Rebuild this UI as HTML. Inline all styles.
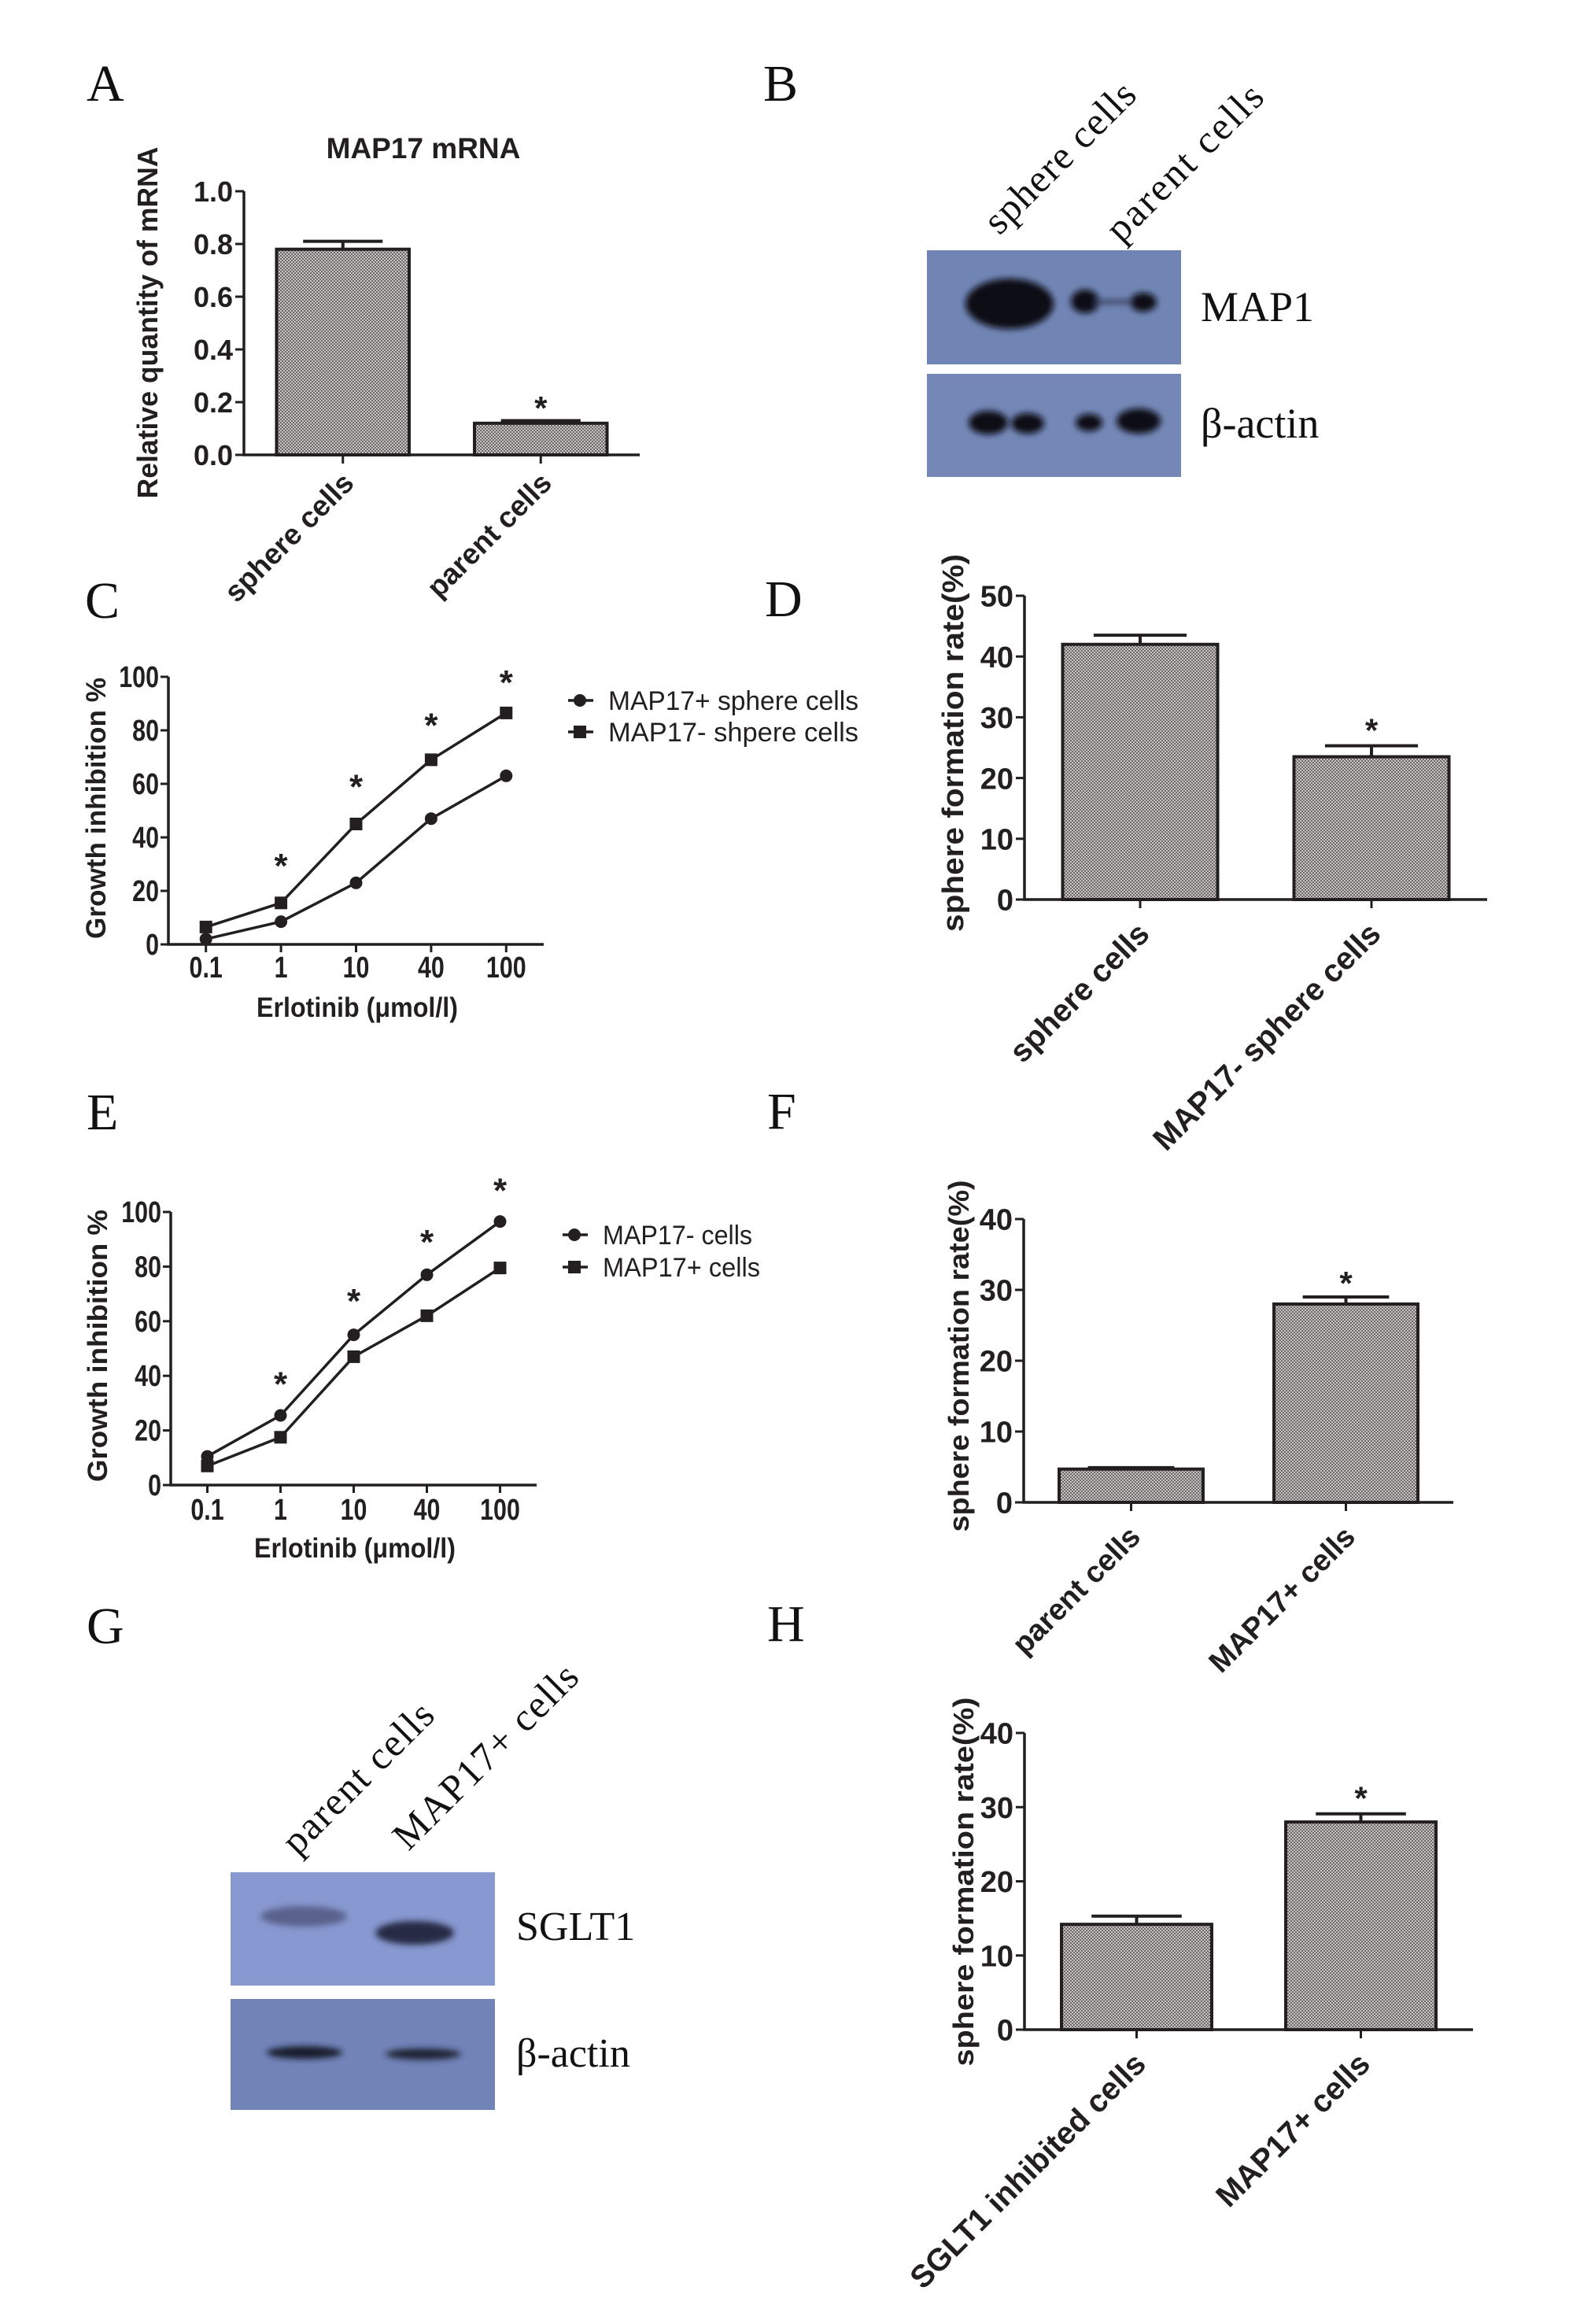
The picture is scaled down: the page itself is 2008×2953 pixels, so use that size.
<!DOCTYPE html>
<html><head><meta charset="utf-8"><title>MAP17 figure</title>
<style>
html,body{margin:0;padding:0;background:#fff;}
svg{display:block;}
.lbl{font-family:"Liberation Serif",serif;font-size:66px;fill:#111;}
.tk{font-family:"Liberation Sans",sans-serif;font-weight:bold;fill:#231f20;}
.ser{font-family:"Liberation Serif",serif;fill:#111;}
.leg{font-family:"Liberation Sans",sans-serif;fill:#231f20;}
</style></head>
<body>
<svg id="fig" xmlns="http://www.w3.org/2000/svg" width="2008" height="2953" viewBox="0 0 2008 2953">
<defs>
<pattern id="dots" width="4" height="4" patternUnits="userSpaceOnUse">
<rect width="4" height="4" fill="#c9c4c4"/><rect width="2" height="2" fill="#6e6969"/><rect x="2" y="2" width="2" height="2" fill="#6e6969"/>
</pattern>
<filter id="blur" x="-50%" y="-50%" width="200%" height="200%"><feGaussianBlur stdDeviation="4"/></filter>
</defs>
<g>
<text class="lbl" x="110" y="128">A</text>
<text class="lbl" x="970" y="128">B</text>
<text class="lbl" x="108" y="785">C</text>
<text class="lbl" x="972" y="783">D</text>
<text class="lbl" x="110" y="1435">E</text>
<text class="lbl" x="975" y="1434">F</text>
<text class="lbl" x="110" y="2088">G</text>
<text class="lbl" x="975" y="2085">H</text>
</g>
<g>
<text class="ser" font-size="50" transform="translate(1270,300) rotate(-45)" textLength="250">sphere cells</text>
<text class="ser" font-size="50" transform="translate(1425,310) rotate(-45)" textLength="260">parent cells</text>
<rect x="1178" y="318" width="323" height="145" fill="#7185b4"/>
<rect x="1178" y="475" width="323" height="131" fill="#7487b6"/>
<g filter="url(#blur)" fill="#0a0a12">
<ellipse cx="1283" cy="386" rx="56" ry="32"/>
<ellipse cx="1379" cy="383" rx="18" ry="15"/>
<ellipse cx="1453" cy="384" rx="17" ry="12"/>
<rect x="1390" y="381" width="50" height="5" fill="#333a55"/>
<ellipse cx="1256" cy="537" rx="25" ry="15"/>
<ellipse cx="1306" cy="538" rx="21" ry="13"/>
<ellipse cx="1384" cy="537" rx="17" ry="11"/>
<ellipse cx="1447" cy="535" rx="28" ry="16"/>
</g>
<text class="ser" font-size="54" x="1526" y="408">MAP1</text>
<text class="ser" font-size="54" x="1526" y="556">β-actin</text>
</g>
<g>
<text class="ser" font-size="50" transform="translate(378,2359) rotate(-45)" textLength="250">parent cells</text>
<text class="ser" font-size="50" transform="translate(519,2353) rotate(-45)" textLength="310">MAP17+ cells</text>
<rect x="293" y="2379" width="336" height="144" fill="#8898d0"/>
<rect x="293" y="2540" width="336" height="141" fill="#7283b8"/>
<g filter="url(#blur)">
<ellipse cx="386" cy="2435" rx="55" ry="13" fill="#5a628c"/>
<ellipse cx="527" cy="2456" rx="50" ry="15" fill="#262a44"/>
<ellipse cx="387" cy="2608" rx="48" ry="8" fill="#161a2a"/>
<ellipse cx="538" cy="2610" rx="48" ry="7" fill="#1c2032"/>
</g>
<text class="ser" font-size="52" x="656" y="2465">SGLT1</text>
<text class="ser" font-size="52" x="656" y="2626">β-actin</text>
</g>
<g id="charts"></g>
</svg>
<script>
// ---- Panel A data ----
const aCats = ["sphere cells", "parent cells"];
const aVals = [0.78, 0.12];
const aErr = [0.81, 0.13];
const aTicks = ["0.0", "0.2", "0.4", "0.6", "0.8", "1.0"];
const aStars = [null, 0.2];
// ---- Panel C data ----
const doses = ["0.1", "1", "10", "40", "100"];
const cPlusVals = [2, 8.5, 23, 47, 63];
const cMinusVals = [6.5, 15.5, 45, 69, 86.5];
const cStars = [null, 31.5, 61, 84, 100];
const growthTicks = ["0", "20", "40", "60", "80", "100"];
// ---- Panel D data ----
const dCats = ["sphere cells", "MAP17- sphere cells"];
const dVals = [42, 23.5];
const dErr = [43.5, 25.3];
const dTicks = ["0", "10", "20", "30", "40", "50"];
const dStars = [null, 28.8];
// ---- Panel E data ----
const eMinusVals = [10.5, 25.5, 55, 77, 96.5];
const ePlusVals = [7, 17.5, 47, 62, 79.5];
const eStars = [null, 39, 69.5, 91, 110];
// ---- Panel F data ----
const fCats = ["parent cells", "MAP17+ cells"];
const fVals = [4.7, 28];
const fErr = [4.9, 29];
const fTicks = ["0", "10", "20", "30", "40"];
const fStars = [null, 31.8];
// ---- Panel H data ----
const hCats = ["SGLT1 inhibited cells", "MAP17+ cells"];
const hVals = [14.2, 28];
const hErr = [15.3, 29.1];
const hTicks = ["0", "10", "20", "30", "40"];
const hStars = [null, 32];

const NS = "http://www.w3.org/2000/svg";
const root = document.getElementById("charts");
function mk(tag, attrs, parent) {
  const e = document.createElementNS(NS, tag);
  for (const k in attrs) e.setAttribute(k, attrs[k]);
  (parent || root).appendChild(e);
  return e;
}
function txt(parent, s, attrs) { const t = mk("text", attrs, parent); t.textContent = s; return t; }

function barChart(o) {
  const g = mk("g", {});
  
  
  const max = parseFloat(o.ticks[o.ticks.length - 1]);
  const y = v => o.y0 - (v / max) * (o.y0 - o.yTop);
  const n = o.cats.length;
  const slot = (o.xEnd - o.ax) / n;
  const cx = i => o.ax + (i + 0.5) * slot;
  if (o.title) {
    const t = txt(g, o.title, {class: "tk", x: o.titleX, y: o.titleY, "font-size": 37, "text-anchor": "middle"});
    
    
  }
  const yt = txt(g, o.yTitle, {class: "tk", "font-size": o.ytSize, "text-anchor": "middle", transform: `translate(${o.ytX},${o.ytY}) rotate(-90)`, textLength: o.ytLen, lengthAdjust: "spacingAndGlyphs"});
  
  
  o.vals.forEach((v, i) => {
    const bw = slot * 0.67;
    const r = mk("rect", {x: cx(i) - bw / 2, y: y(v), width: bw, height: o.y0 - y(v), fill: "url(#dots)", stroke: "#231f20", "stroke-width": 4}, g);
    
    
    const e = mk("path", {d: `M${cx(i)} ${y(v)}V${y(o.err[i])}M${cx(i) - bw * 0.3} ${y(o.err[i])}H${cx(i) + bw * 0.3}`, stroke: "#231f20", "stroke-width": 4, fill: "none"}, g);
    
    
    if (o.stars[i] != null) {
      const s = txt(g, "*", {class: "tk", x: cx(i), y: y(o.stars[i]) + 22, "font-size": 42, "text-anchor": "middle"});
      
      
    }
    const tk = mk("line", {x1: cx(i), x2: cx(i), y1: o.y0, y2: o.y0 + 11, stroke: "#231f20", "stroke-width": 3}, g);
    
    
    const lx = cx(i) + o.lblDx, ly = o.y0 + o.lblDy;
    const lb = txt(g, o.cats[i], {class: "tk", "font-size": o.lblSize, "text-anchor": "end", transform: `translate(${lx},${ly}) rotate(-45)`});
    
    
  });
  const ax = mk("path", {d: `M${o.ax} ${o.yTop}V${o.y0}H${o.xEnd}`, stroke: "#231f20", "stroke-width": 3.5, fill: "none"}, g);
  
  
  o.ticks.forEach(tv => {
    const v = parseFloat(tv);
    const l = mk("line", {x1: o.ax - 11, x2: o.ax, y1: y(v), y2: y(v), stroke: "#231f20", "stroke-width": 3}, g);
    
    
    const t = txt(g, tv, {class: "tk", x: o.ax - 14, y: y(v) + o.tkSize * 0.36, "font-size": o.tkSize, "text-anchor": "end"});
    
    
  });
}

function lineChart(o) {
  const g = mk("g", {});
  
  
  const y = v => o.y0 - (v / 100) * (o.y0 - o.yTop);
  const w = (o.xEnd - o.ax) / doses.length;
  const x = i => o.ax + (i + 0.5) * w;
  const ax = mk("path", {d: `M${o.ax} ${o.yTop}V${o.y0}H${o.xEnd}`, stroke: "#231f20", "stroke-width": 3.5, fill: "none"}, g);
  
  
  growthTicks.forEach(tv => {
    const v = parseFloat(tv);
    const l = mk("line", {x1: o.ax - 10, x2: o.ax, y1: y(v), y2: y(v), stroke: "#231f20", "stroke-width": 3}, g);
    
    
    const t = txt(g, tv, {class: "tk", x: (o.ax - 12) / 0.8, y: y(v) + 13, "font-size": 38, "text-anchor": "end", transform: "scale(0.8,1)"});
    
    
  });
  doses.forEach((d, i) => {
    const l = mk("line", {x1: x(i), x2: x(i), y1: o.y0, y2: o.y0 + 10, stroke: "#231f20", "stroke-width": 3}, g);
    
    
    const t = txt(g, d, {class: "tk", x: x(i) / 0.8, y: o.tkY, "font-size": 38, "text-anchor": "middle", transform: "scale(0.8,1)"});
    
    
    if (o.stars[i] != null) {
      const s = txt(g, "*", {class: "tk", x: x(i), y: y(o.stars[i]) + 22, "font-size": 44, "text-anchor": "middle"});
      
      
    }
  });
  const xt = txt(g, "Erlotinib (μmol/l)", {class: "tk", x: o.xtX, y: o.xtY, "font-size": 35, "text-anchor": "middle", textLength: 256, lengthAdjust: "spacingAndGlyphs"});
  
  
  const yt = txt(g, "Growth inhibition %", {class: "tk", "font-size": 35, "text-anchor": "middle", transform: `translate(${o.ytX},${o.ytY}) rotate(-90)`, textLength: o.ytLen, lengthAdjust: "spacingAndGlyphs"});
  
  
  o.series.forEach((s, si) => {
    const p = mk("polyline", {points: s.vals.map((v, i) => `${x(i)},${y(v)}`).join(" "), fill: "none", stroke: "#231f20", "stroke-width": 3.5}, g);
    
    
    s.vals.forEach((v, i) => {
      let m;
      if (s.shape === "circle") m = mk("circle", {cx: x(i), cy: y(v), r: 8, fill: "#231f20"}, g);
      else m = mk("rect", {x: x(i) - 8, y: y(v) - 8, width: 16, height: 16, fill: "#231f20"}, g);
      
      
    });
    const ly = o.legY[si];
    const lg = mk("g", {}, g);
    
    
    mk("line", {x1: o.legX - 15, x2: o.legX + 17, y1: ly, y2: ly, stroke: "#231f20", "stroke-width": 3.5}, lg);
    if (s.shape === "circle") mk("circle", {cx: o.legX, cy: ly, r: 8, fill: "#231f20"}, lg);
    else mk("rect", {x: o.legX - 8, y: ly - 8, width: 16, height: 16, fill: "#231f20"}, lg);
    txt(lg, s.label, {class: "leg", x: o.legX + 36, y: ly + 12, "font-size": 34, textLength: s.len, lengthAdjust: "spacingAndGlyphs"});
  });
}

barChart({name: "chart-a-map17-mrna", cats: aCats, vals: aVals, err: aErr, ticks: aTicks, stars: aStars,
  ax: 310, xEnd: 813, yTop: 243, y0: 578, tkSize: 36, title: "MAP17 mRNA", titleX: 538, titleY: 201,
  yTitle: "Relative quantity of mRNA", ytX: 200, ytY: 410, ytSize: 36, ytLen: 447, lblSize: 37, lblDx: 16, lblDy: 38});
lineChart({name: "chart-c-growth-inhibition", ax: 214, xEnd: 691, yTop: 860, y0: 1200, tkY: 1242, xtX: 454, xtY: 1292,
  ytX: 134, ytY: 1027, ytLen: 332, stars: cStars, legX: 737, legY: [890, 930],
  series: [{key: "map17-plus-sphere", vals: cPlusVals, shape: "circle", label: "MAP17+ sphere cells", len: 318},
           {key: "map17-minus-sphere", vals: cMinusVals, shape: "square", label: "MAP17-  shpere cells", len: 318}]});
barChart({name: "chart-d-sphere-formation", cats: dCats, vals: dVals, err: dErr, ticks: dTicks, stars: dStars,
  ax: 1302, xEnd: 1890, yTop: 757, y0: 1143, tkSize: 38,
  yTitle: "sphere formation rate(%)", ytX: 1224, ytY: 944, ytSize: 38, ytLen: 480, lblSize: 40, lblDx: 14, lblDy: 46});
lineChart({name: "chart-e-growth-inhibition", ax: 217, xEnd: 682, yTop: 1540, y0: 1887, tkY: 1931, xtX: 451, xtY: 1979,
  ytX: 136, ytY: 1710, ytLen: 346, stars: eStars, legX: 730, legY: [1569, 1610],
  series: [{key: "map17-minus", vals: eMinusVals, shape: "circle", label: "MAP17- cells", len: 190},
           {key: "map17-plus", vals: ePlusVals, shape: "square", label: "MAP17+ cells", len: 200}]});
barChart({name: "chart-f-sphere-formation", cats: fCats, vals: fVals, err: fErr, ticks: fTicks, stars: fStars,
  ax: 1301, xEnd: 1847, yTop: 1549, y0: 1909, tkSize: 38,
  yTitle: "sphere formation rate(%)", ytX: 1231, ytY: 1723, ytSize: 36, ytLen: 447, lblSize: 38, lblDx: 14, lblDy: 46});
barChart({name: "chart-h-sphere-formation", cats: hCats, vals: hVals, err: hErr, ticks: hTicks, stars: hStars,
  ax: 1302, xEnd: 1872, yTop: 2202, y0: 2579, tkSize: 38,
  yTitle: "sphere formation rate(%)", ytX: 1237, ytY: 2391, ytSize: 36, ytLen: 469, lblSize: 40, lblDx: 14, lblDy: 46});
</script>
</body></html>
